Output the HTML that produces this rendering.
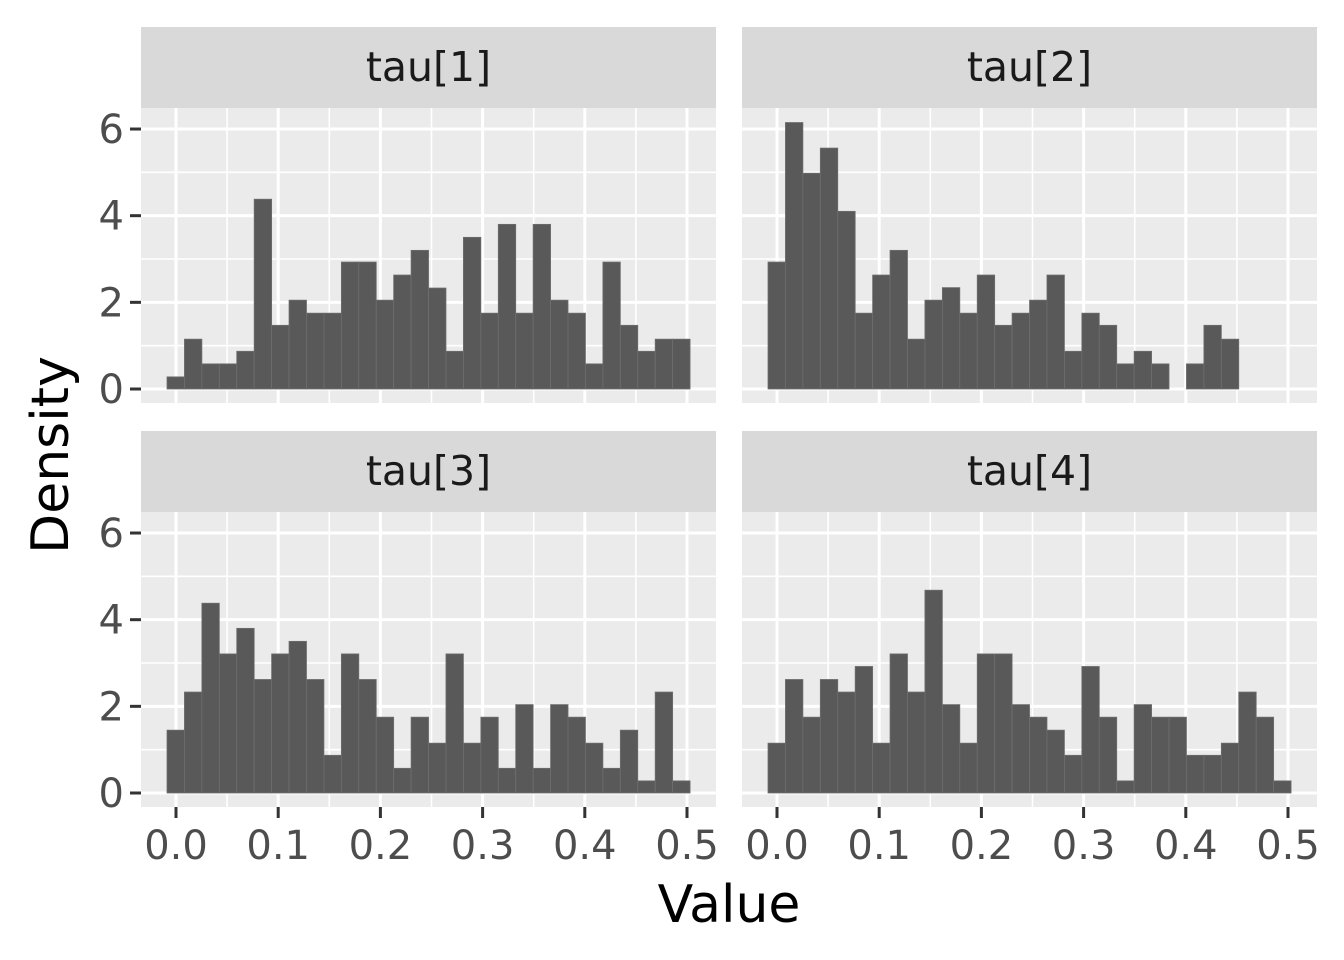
<!DOCTYPE html>
<html><head><meta charset="utf-8">
<style>
html,body{margin:0;padding:0;background:#fff;}
svg{display:block;font-family:"DejaVu Sans","Liberation Sans",sans-serif;}
</style></head>
<body>
<svg id="chart" width="1344" height="960" viewBox="0 0 1344 960" xmlns="http://www.w3.org/2000/svg">
<rect width="1344" height="960" fill="#ffffff"/>
<text x="729" y="922" font-size="52" text-anchor="middle" fill="#000">Value</text>
<text x="0" y="0" font-size="52" text-anchor="middle" fill="#000" transform="translate(68,455) rotate(-90)">Density</text>
</svg>
<script>
const panelNames = ["tau[1]", "tau[2]", "tau[3]", "tau[4]"];
const yTicks = [0, 2, 4, 6];
const xTicks = [0.0, 0.1, 0.2, 0.3, 0.4, 0.5];
const xTickLabels = ["0.0", "0.1", "0.2", "0.3", "0.4", "0.5"];
const binStart = -0.0088;
const binWidth = 0.01706;
const tau1 = [0.28,1.15,0.58,0.58,0.87,4.38,1.47,2.05,1.75,1.75,2.93,2.93,2.05,2.63,3.2,2.33,0.87,3.5,1.75,3.8,1.75,3.8,2.05,1.75,0.58,2.93,1.47,0.87,1.15,1.15];
const tau2 = [2.93,6.15,4.98,5.56,4.1,1.75,2.63,3.2,1.15,2.05,2.34,1.75,2.63,1.47,1.75,2.05,2.63,0.87,1.75,1.47,0.58,0.87,0.58,0,0.58,1.47,1.15,0,0,0];
const tau3 = [1.45,2.33,4.38,3.21,3.8,2.62,3.21,3.5,2.62,0.87,3.21,2.62,1.75,0.57,1.75,1.15,3.21,1.15,1.75,0.57,2.04,0.57,2.04,1.75,1.15,0.57,1.45,0.28,2.33,0.28];
const tau4 = [1.15,2.62,1.75,2.62,2.33,2.92,1.15,3.21,2.33,4.68,2.04,1.15,3.21,3.21,2.04,1.75,1.45,0.87,2.92,1.75,0.28,2.04,1.75,1.75,0.87,0.87,1.15,2.33,1.75,0.28];
const seriesList = [tau1, tau2, tau3, tau4];

const NS = "http://www.w3.org/2000/svg";
const svg = document.getElementById("chart");
function mk(tag, attrs, parent) {
  const e = document.createElementNS(NS, tag);
  for (const k in attrs) e.setAttribute(k, attrs[k]);
  (parent || svg).appendChild(e);
  return e;
}
const colX = [141, 742], rowY = [27, 431];
const panelW = 575, stripH = 81, panelH = 295;
const xPx = 1022;
const yPx = 43.33;
seriesList.forEach((vals, i) => {
  const px = colX[i % 2], py = rowY[Math.floor(i / 2)];
  const top = py + stripH, bottom = top + panelH;
  const x0 = px + 35, y0 = top + 281;
  const xs = v => x0 + v * xPx;
  const ys = v => y0 - v * yPx;
  const g = mk("g", {});
  
  
  const strip = mk("rect", {x: px, y: py, width: panelW, height: stripH, fill: "#d9d9d9"}, g);
  
  
  const st = mk("text", {x: px + panelW / 2, y: py + 54, "font-size": 41, "text-anchor": "middle", fill: "#1a1a1a"}, g);
  st.textContent = panelNames[i];
  
  
  const bg = mk("rect", {x: px, y: top, width: panelW, height: panelH, fill: "#ebebeb"}, g);
  
  
  for (let k = 1; k < 7; k += 2) {
    const l = mk("line", {x1: px, x2: px + panelW, y1: ys(k), y2: ys(k), stroke: "#fff", "stroke-width": 1.6}, g);
    
    
  }
  for (let k = 0; k < xTicks.length - 1; k++) {
    const v = (xTicks[k] + xTicks[k + 1]) / 2;
    const l = mk("line", {x1: xs(v), x2: xs(v), y1: top, y2: bottom, stroke: "#fff", "stroke-width": 1.6}, g);
    
    
  }
  yTicks.forEach(v => {
    const l = mk("line", {x1: px, x2: px + panelW, y1: ys(v), y2: ys(v), stroke: "#fff", "stroke-width": 3}, g);
    
    
  });
  xTicks.forEach(v => {
    const l = mk("line", {x1: xs(v), x2: xs(v), y1: top, y2: bottom, stroke: "#fff", "stroke-width": 3}, g);
    
    
  });
  vals.forEach((v, j) => {
    if (v <= 0) return;
    const a = binStart + j * binWidth;
    const r = mk("rect", {x: xs(a), y: ys(v), width: binWidth * xPx, height: v * yPx, fill: "#595959", stroke: "#6e6e6e", "stroke-width": 0.8}, g);
    
    
  });
  if (i % 2 === 0) {
    yTicks.forEach(v => {
      const t = mk("line", {x1: px - 11, x2: px, y1: ys(v), y2: ys(v), stroke: "#333", "stroke-width": 3}, g);
      
      
      const lb = mk("text", {x: px - 17, y: ys(v) + 14, "font-size": 40, "text-anchor": "end", fill: "#4d4d4d"}, g);
      lb.textContent = String(v);
      
      
    });
  }
  if (i >= 2) {
    xTicks.forEach((v, k) => {
      const t = mk("line", {x1: xs(v), x2: xs(v), y1: bottom, y2: bottom + 11, stroke: "#333", "stroke-width": 3}, g);
      
      
      const lb = mk("text", {x: xs(v), y: bottom + 52, "font-size": 40, "text-anchor": "middle", fill: "#4d4d4d"}, g);
      lb.textContent = xTickLabels[k];
      
      
    });
  }
});
</script>
</body></html>
